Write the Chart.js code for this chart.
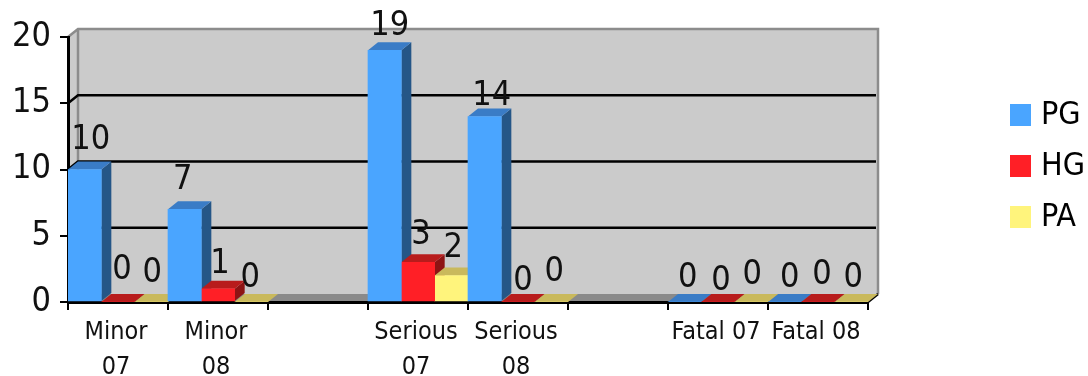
<!DOCTYPE html>
<html>
<head>
<meta charset="utf-8">
<style>
  html, body { margin: 0; padding: 0; background: #fff; }
  #wrap { width: 1088px; height: 376px; }
</style>
<script src="https://cdn.jsdelivr.net/npm/chart.js@4/dist/chart.umd.min.js"></script>
</head>
<body>
<div id="wrap"><canvas id="chart" width="1088" height="376"></canvas></div>
<script>
const categories = [['Minor', '07'], ['Minor', '08'], '', ['Serious', '07'], ['Serious', '08'], '', 'Fatal 07', 'Fatal 08'];
const pgValues = [10, 7, null, 19, 14, null, 0, 0];
const hgValues = [0, 1, null, 3, 0, null, 0, 0];
const paValues = [0, 0, null, 2, 0, null, 0, 0];
const yTicks = [0, 5, 10, 15, 20];

const DEPTH_X = 10, DEPTH_Y = 8;
const FONT = '"DejaVu Sans Condensed"';
const faces = [
    { front: '#4aa5ff', top: '#3a7cc6', side: '#255687' },
    { front: '#ff1f26', top: '#b81c1c', side: '#8e1414' },
    { front: '#fff47c', top: '#c9b95c', side: '#a89a40' }
];

// small per-label shifts so neighbouring numbers don't sit on each other
const labelNudge = {
    '0:0': [2, -3], '0:1': [-6, -3], '0:3': [1, 2], '0:4': [3, 6], '0:6': [-1, 2], '0:7': [1, 2],
    '1:0': [0, -6], '1:1': [-2, 1], '1:3': [-1, -1], '1:4': [1, 5], '1:6': [-1, 5], '1:7': [0, -1],
    '2:0': [-3, -3], '2:1': [-5, 2], '2:3': [-2, -1], '2:4': [-1, -4], '2:6': [-3, -1], '2:7': [-2, 2]
};

function poly(ctx, pts, fill) {
    ctx.fillStyle = fill;
    ctx.beginPath();
    pts.forEach((p, i) => i ? ctx.lineTo(p[0], p[1]) : ctx.moveTo(p[0], p[1]));
    ctx.closePath();
    ctx.fill();
}

// back wall, floor and the gridlines that sit on the wall
const wallPlugin = {
    id: 'wall',
    beforeDraw(chart) {
        const { ctx, chartArea: a, scales: { y } } = chart;
        ctx.save();
        poly(ctx, [[a.left, a.top], [a.left + DEPTH_X, a.top - DEPTH_Y], [a.right + DEPTH_X, a.top - DEPTH_Y],
            [a.right + DEPTH_X, a.bottom - DEPTH_Y], [a.right, a.bottom], [a.left, a.bottom]], '#cbcbcb');
        ctx.lineWidth = 2.5;
        ctx.strokeStyle = '#8c8c8c';
        ctx.beginPath();
        ctx.moveTo(a.left, a.top);
        ctx.lineTo(a.left + DEPTH_X, a.top - DEPTH_Y);
        ctx.lineTo(a.right + DEPTH_X, a.top - DEPTH_Y);
        ctx.lineTo(a.right + DEPTH_X, a.bottom - DEPTH_Y);
        ctx.moveTo(a.left + DEPTH_X, a.top - DEPTH_Y);
        ctx.lineTo(a.left + DEPTH_X, a.bottom - DEPTH_Y);
        ctx.stroke();
        poly(ctx, [[a.left, a.bottom], [a.left + DEPTH_X, a.bottom - DEPTH_Y],
            [a.right + DEPTH_X, a.bottom - DEPTH_Y], [a.right, a.bottom]], '#8a8a8a');
        ctx.strokeStyle = '#000';
        yTicks.slice(1, -1).forEach(v => {
            const py = y.getPixelForValue(v);
            ctx.beginPath();
            ctx.moveTo(a.left, py);
            ctx.lineTo(a.left + DEPTH_X, py - DEPTH_Y);
            ctx.lineTo(a.right + DEPTH_X - 2, py - DEPTH_Y);
            ctx.stroke();
        });
        ctx.beginPath();
        ctx.moveTo(a.right, a.bottom);
        ctx.lineTo(a.right + DEPTH_X, a.bottom - DEPTH_Y);
        ctx.stroke();
        ctx.restore();
    }
};

// side and top faces of every bar, the front face comes from the bar element
const depthPlugin = {
    id: 'depth',
    beforeDatasetsDraw(chart) {
        const ctx = chart.ctx;
        ctx.save();
        chart.data.datasets.forEach((ds, d) => {
            chart.getDatasetMeta(d).data.forEach((bar, i) => {
                if (ds.data[i] === null) return;
                const l = bar.x - bar.width / 2, r = bar.x + bar.width / 2;
                const t = bar.y, b = bar.base;
                poly(ctx, [[r, t], [r + DEPTH_X, t - DEPTH_Y], [r + DEPTH_X, b - DEPTH_Y], [r, b]], faces[d].side);
                poly(ctx, [[l, t], [l + DEPTH_X, t - DEPTH_Y], [r + DEPTH_X, t - DEPTH_Y], [r, t]], faces[d].top);
            });
        });
        ctx.restore();
    },
    afterDatasetsDraw(chart) {
        const ctx = chart.ctx;
        ctx.save();
        ctx.font = '34px ' + FONT;
        ctx.fillStyle = '#111';
        ctx.textAlign = 'center';
        ctx.textBaseline = 'middle';
        chart.data.datasets.forEach((ds, d) => {
            chart.getDatasetMeta(d).data.forEach((bar, i) => {
                if (ds.data[i] === null) return;
                const n = labelNudge[d + ':' + i] || [0, 0];
                ctx.fillText(ds.data[i], bar.x + 4 + n[0], bar.y - 26 + n[1]);
            });
        });
        ctx.restore();
    }
};

// legend column to the right of the plot
const legendPlugin = {
    id: 'sideLegend',
    afterDraw(chart) {
        const ctx = chart.ctx;
        ctx.save();
        ctx.font = '32px ' + FONT;
        ctx.textBaseline = 'middle';
        chart.data.datasets.forEach((ds, d) => {
            const cy = 115 + d * 51;
            ctx.fillStyle = ds.backgroundColor;
            ctx.fillRect(1010, cy - 11, 21, 22);
            ctx.fillStyle = '#000';
            ctx.fillText(ds.label, 1041, cy + 1);
        });
        ctx.restore();
    }
};

const series = [['PG', pgValues], ['HG', hgValues], ['PA', paValues]];

new Chart(document.getElementById('chart'), {
    type: 'bar',
    data: {
        labels: categories,
        datasets: series.map((s, i) => ({
            label: s[0],
            data: s[1],
            backgroundColor: faces[i].front,
            borderWidth: 0,
            barPercentage: 1,
            categoryPercentage: 1
        }))
    },
    options: {
        responsive: false,
        animation: false,
        layout: { padding: { top: 37, left: 0, right: 220, bottom: 0 } },
        plugins: {
            tooltip: { enabled: false },
            legend: { display: false }
        },
        scales: {
            x: {
                grid: { offset: true, drawOnChartArea: false, color: '#000', lineWidth: 2, tickLength: 8 },
                border: { color: '#000', width: 3 },
                ticks: {
                    color: '#111',
                    padding: 5,
                    labelOffset: -2,
                    maxRotation: 0,
                    autoSkip: false,
                    font: { family: FONT, size: 25, lineHeight: 1.4 }
                },
                afterFit(scale) { scale.height = 74; }
            },
            y: {
                min: 0,
                max: 20,
                grid: { drawOnChartArea: false, color: '#000', lineWidth: 2, tickLength: 8 },
                border: { color: '#000', width: 3 },
                ticks: {
                    stepSize: 5,
                    color: '#111',
                    padding: 9,
                    font: { family: FONT, size: 34 }
                },
                afterFit(scale) { scale.width = 68; }
            }
        }
    },
    plugins: [wallPlugin, depthPlugin, legendPlugin]
});
</script>
</body>
</html>
